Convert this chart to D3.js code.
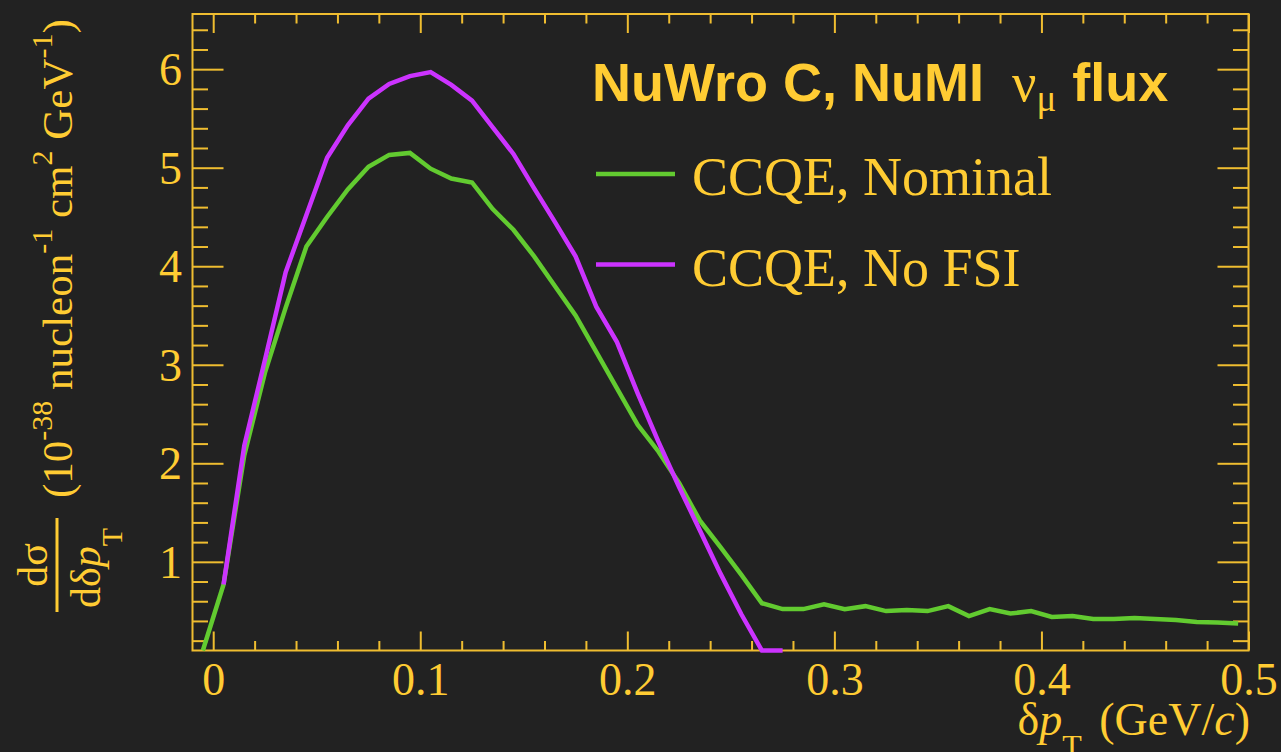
<!DOCTYPE html>
<html>
<head>
<meta charset="utf-8">
<script src="https://cdn.jsdelivr.net/npm/d3@7"></script>
<style>
    body { margin: 0; background: #222222; }
    svg { display: block; }
    .tick-label { font-family: "Liberation Serif", "Times New Roman", serif; font-size: 46px; fill: #ffcc33; }
    .serif { font-family: "Liberation Serif", "Times New Roman", serif; fill: #ffcc33; }
    .title { font-family: "Liberation Sans", Arial, sans-serif; font-weight: bold; font-size: 54px; fill: #ffcc33; }
</style>
</head>
<body>
<div id="chart-area"></div>
<script>
// bin centres of the dpT histograms (GeV/c)
var binCenters = [-0.005, 0.005, 0.015, 0.025, 0.035, 0.045, 0.055, 0.065, 0.075, 0.085,
    0.095, 0.105, 0.115, 0.125, 0.135, 0.145, 0.155, 0.165, 0.175, 0.185,
    0.195, 0.205, 0.215, 0.225, 0.235, 0.245, 0.255, 0.265, 0.275, 0.285,
    0.295, 0.305, 0.315, 0.325, 0.335, 0.345, 0.355, 0.365, 0.375, 0.385,
    0.395, 0.405, 0.415, 0.425, 0.435, 0.445, 0.455, 0.465, 0.475, 0.485, 0.495];

// CCQE, Nominal
var nominal = [0, 0.77, 2.08, 2.92, 3.58, 4.20, 4.50, 4.78, 5.01, 5.13,
    5.15, 4.99, 4.89, 4.85, 4.58, 4.37, 4.10, 3.80, 3.50, 3.13,
    2.76, 2.39, 2.12, 1.80, 1.42, 1.15, 0.87, 0.58, 0.52, 0.52,
    0.57, 0.52, 0.55, 0.50, 0.51, 0.50, 0.55, 0.45, 0.52, 0.475,
    0.50, 0.44, 0.45, 0.42, 0.42, 0.43, 0.42, 0.41, 0.39, 0.385, 0.375];

// CCQE, No FSI (null = not drawn)
var noFSI = [null, 0.77, 2.18, 3.05, 3.94, 4.52, 5.10, 5.43, 5.70, 5.85,
    5.93, 5.97, 5.84, 5.68, 5.41, 5.14, 4.79, 4.45, 4.10, 3.59,
    3.23, 2.71, 2.22, 1.76, 1.32, 0.88, 0.47, 0, 0, null,
    null, null, null, null, null, null, null, null, null, null,
    null, null, null, null, null, null, null, null, null, null, null];

var xTicks = [0, 0.1, 0.2, 0.3, 0.4, 0.5];
var xMinorTicks = [0.02, 0.04, 0.06, 0.08, 0.12, 0.14, 0.16, 0.18, 0.22, 0.24, 0.26, 0.28,
    0.32, 0.34, 0.36, 0.38, 0.42, 0.44, 0.46, 0.48];
var yTicks = [1, 2, 3, 4, 5, 6];
var yMinorTicks = [0.2, 0.4, 0.6, 0.8, 1.2, 1.4, 1.6, 1.8, 2.2, 2.4, 2.6, 2.8, 3.2, 3.4, 3.6, 3.8,
    4.2, 4.4, 4.6, 4.8, 5.2, 5.4, 5.6, 5.8, 6.2, 6.4];

var xMin = -0.01, xMax = 0.5, yMin = 0.1, yMax = 6.56;

// frame edges (window.top is reserved, so plot* names)
var plotLeft = 192.5, plotRight = 1248.5, plotTop = 14, plotBottom = 650.5;
var axisColor = "#efbd30";
var green = "#62cb30";
var purple = "#cc33ff";

var svg = d3.select("#chart-area").append("svg")
    .attr("width", 1281)
    .attr("height", 752);

svg.append("rect")
    .attr("width", 1281)
    .attr("height", 752)
    .attr("fill", "#222222");

var x = d3.scaleLinear().domain([xMin, xMax]).range([plotLeft, plotRight]);
var y = d3.scaleLinear().domain([yMin, yMax]).range([plotBottom, plotTop]);

// axes (ticks point inward on all four sides)
function styleAxis(g) {
    g.select(".domain").remove();
    g.selectAll("line").attr("stroke", axisColor).attr("stroke-width", 2);
    g.selectAll("text").attr("class", "tick-label").attr("fill", null);
}

svg.append("g")
    .attr("transform", "translate(0," + plotBottom + ")")
    .call(d3.axisBottom(x).tickValues(xTicks).tickSize(-19).tickPadding(12)
        .tickFormat(function (d) { return String(d); }))
    .call(styleAxis);
svg.append("g")
    .attr("transform", "translate(0," + plotBottom + ")")
    .call(d3.axisBottom(x).tickValues(xMinorTicks).tickSize(-9.5).tickFormat(""))
    .call(styleAxis);
svg.append("g")
    .attr("transform", "translate(0," + plotTop + ")")
    .call(d3.axisTop(x).tickValues(xTicks).tickSize(-19).tickFormat(""))
    .call(styleAxis);
svg.append("g")
    .attr("transform", "translate(0," + plotTop + ")")
    .call(d3.axisTop(x).tickValues(xMinorTicks).tickSize(-9.5).tickFormat(""))
    .call(styleAxis);

svg.append("g")
    .attr("transform", "translate(" + plotLeft + ",0)")
    .call(d3.axisLeft(y).tickValues(yTicks).tickSize(-31).tickPadding(10.5)
        .tickFormat(function (d) { return String(d); }))
    .call(styleAxis)
    .selectAll("text").attr("dy", "0.34em");
svg.append("g")
    .attr("transform", "translate(" + plotLeft + ",0)")
    .call(d3.axisLeft(y).tickValues(yMinorTicks).tickSize(-15.5).tickFormat(""))
    .call(styleAxis);
svg.append("g")
    .attr("transform", "translate(" + plotRight + ",0)")
    .call(d3.axisRight(y).tickValues(yTicks).tickSize(-31).tickFormat(""))
    .call(styleAxis);
svg.append("g")
    .attr("transform", "translate(" + plotRight + ",0)")
    .call(d3.axisRight(y).tickValues(yMinorTicks).tickSize(-15.5).tickFormat(""))
    .call(styleAxis);

// frame
svg.append("rect")
    .attr("x", plotLeft)
    .attr("y", plotTop)
    .attr("width", plotRight - plotLeft)
    .attr("height", plotBottom - plotTop)
    .attr("fill", "none")
    .attr("stroke", axisColor)
    .attr("stroke-width", 2);

// curves: values below the axis minimum sit on the axis, as ROOT draws them
function makeLine(values) {
    return d3.line()
        .defined(function (d, i) { return values[i] !== null; })
        .x(function (d) { return x(d); })
        .y(function (d, i) { return y(Math.max(values[i], yMin)); });
}

svg.append("path")
    .datum(binCenters)
    .attr("d", makeLine(nominal))
    .attr("fill", "none")
    .attr("stroke", green)
    .attr("stroke-width", 4.5);

svg.append("path")
    .datum(binCenters)
    .attr("d", makeLine(noFSI))
    .attr("fill", "none")
    .attr("stroke", purple)
    .attr("stroke-width", 4.5);

// title
var title = svg.append("text")
    .attr("class", "title")
    .attr("x", 592)
    .attr("y", 101);
title.append("tspan").text("NuWro C, NuMI");
title.append("tspan").attr("class", "serif").attr("dx", 28).style("font-weight", "normal").text("ν");
title.append("tspan").attr("class", "serif").attr("dy", 10).style("font-weight", "normal")
    .style("font-size", "37px").text("μ");
title.append("tspan").attr("dy", -10).attr("dx", 16).text("flux");

// legend
var legendItems = ["CCQE, Nominal", "CCQE, No FSI"];
var legendColors = [green, purple];
var legend = svg.selectAll(".legend")
    .data(legendItems)
    .enter().append("g")
    .attr("class", "legend")
    .attr("transform", function (d, i) { return "translate(0," + (i * 90.5) + ")"; });

legend.append("line")
    .attr("x1", 596)
    .attr("x2", 675)
    .attr("y1", 174)
    .attr("y2", 174)
    .attr("stroke", function (d, i) { return legendColors[i]; })
    .attr("stroke-width", 4.5);

legend.append("text")
    .attr("class", "serif")
    .attr("x", 692)
    .attr("y", 195)
    .style("font-size", "54px")
    .text(function (d) { return d; });

// x axis title
var xTitle = svg.append("text")
    .attr("class", "serif")
    .attr("x", 1250)
    .attr("y", 735)
    .attr("text-anchor", "end")
    .style("font-size", "46px");
xTitle.append("tspan").text("δ");
xTitle.append("tspan").style("font-style", "italic").text("p");
xTitle.append("tspan").attr("dy", 22).style("font-size", "32px").text("T");
xTitle.append("tspan").attr("dy", -22).attr("dx", 6).text(" (GeV/");
xTitle.append("tspan").style("font-style", "italic").text("c");
xTitle.append("tspan").text(")");

// y axis title: fraction d(sigma)/d(delta pT) then the units
var yTitle = svg.append("g")
    .attr("transform", "translate(72,612) rotate(-90)");

yTitle.append("line")
    .attr("x1", 0)
    .attr("x2", 94)
    .attr("y1", -15)
    .attr("y2", -15)
    .attr("stroke", "#ffcc33")
    .attr("stroke-width", 3);

yTitle.append("text")
    .attr("class", "serif")
    .attr("x", 47)
    .attr("y", -25)
    .attr("text-anchor", "middle")
    .style("font-size", "42px")
    .text("dσ");

var denom = yTitle.append("text")
    .attr("class", "serif")
    .attr("x", 44)
    .attr("y", 28)
    .attr("text-anchor", "middle")
    .style("font-size", "42px");
denom.append("tspan").text("dδ");
denom.append("tspan").style("font-style", "italic").text("p");
denom.append("tspan").attr("dy", 22).style("font-size", "30px").text("T");

var units = yTitle.append("text")
    .attr("class", "serif")
    .attr("x", 114)
    .attr("y", 0)
    .style("font-size", "43px");
units.append("tspan").text("(10");
units.append("tspan").attr("dy", -20).style("font-size", "30px").text("-38");
units.append("tspan").attr("dy", 20).text(" nucleon");
units.append("tspan").attr("dy", -20).style("font-size", "30px").text("-1");
units.append("tspan").attr("dy", 20).text(" cm");
units.append("tspan").attr("dy", -20).style("font-size", "30px").text("2");
units.append("tspan").attr("dy", 20).text(" GeV");
units.append("tspan").attr("dy", -20).style("font-size", "30px").text("-1");
units.append("tspan").attr("dy", 20).text(")");
</script>
</body>
</html>
